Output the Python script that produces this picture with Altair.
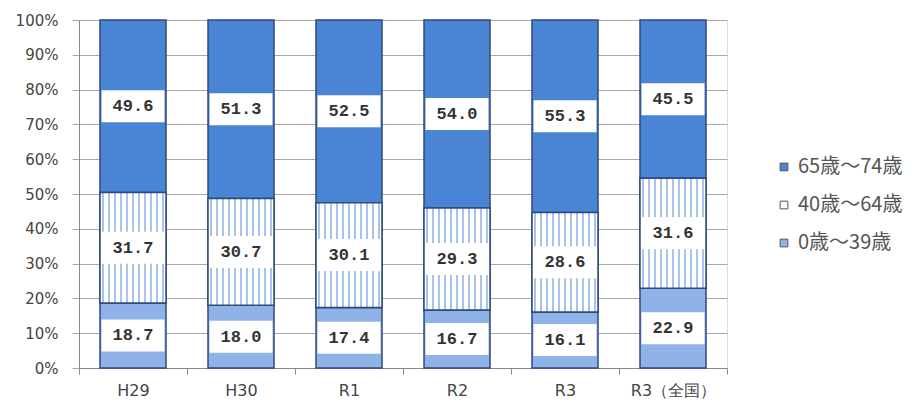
import altair as alt
import pandas as pd

categories = ["H29", "H30", "R1", "R2", "R3", "R3（全国）"]
series_names = ["65歳～74歳", "40歳～64歳", "0歳～39歳"]
age_0_39 = [18.7, 18.0, 17.4, 16.7, 16.1, 22.9]
age_40_64 = [31.7, 30.7, 30.1, 29.3, 28.6, 31.6]
age_65_74 = [49.6, 51.3, 52.5, 54.0, 55.3, 45.5]
y_ticks = [0, 10, 20, 30, 40, 50, 60, 70, 80, 90, 100]

rows = []
for i, c in enumerate(categories):
    rows.append({"cat": c, "series": series_names[2], "idx": 0, "value": age_0_39[i]})
    rows.append({"cat": c, "series": series_names[1], "idx": 1, "value": age_40_64[i]})
    rows.append({"cat": c, "series": series_names[0], "idx": 2, "value": age_65_74[i]})
df = pd.DataFrame(rows)

TOP = "#4a85d5"
BOT = "#8fb2e8"
STROKE = "#2e4a78"
GRID = "#a8a8a8"
BAR_W = 66

X_SCALE = alt.Scale(paddingInner=0, paddingOuter=0)
X_AXIS = alt.Axis(labelAngle=0, labelFont="DejaVu Sans", labelFontSize=16,
                  labelColor="#444", labelPadding=8, tickBand="extent",
                  tickSize=6, tickColor="#888", domainColor="#888", grid=False)
Y_SCALE = alt.Scale(domain=[0, 100], nice=False)
Y_AXIS = alt.Axis(values=y_ticks, labelExpr="datum.value + '%'", labelOverlap=False,
                  labelFont="DejaVu Sans", labelFontSize=15, labelColor="#444",
                  labelPadding=14, tickSize=7, tickColor=GRID, domainColor="#888",
                  gridColor=GRID, gridWidth=1)


def xe():
    return alt.X("cat:N", sort=categories, title=None, scale=X_SCALE, axis=X_AXIS)


def ye(field, **kw):
    return alt.Y(field, title=None, scale=Y_SCALE, axis=Y_AXIS, **kw)


base = alt.Chart(df)

bars = base.mark_bar(stroke=STROKE, strokeWidth=1.5, width=BAR_W).encode(
    x=xe(),
    y=ye("value:Q", stack="zero"),
    color=alt.Color("series:N", sort=series_names,
                    scale=alt.Scale(domain=series_names, range=[TOP, "#ffffff", BOT]),
                    legend=alt.Legend(title=None, orient="none", legendX=695, legendY=137,
                                      symbolType="square", symbolSize=60,
                                      symbolStrokeColor="#555", symbolStrokeWidth=1,
                                      labelFont="Noto Sans CJK JP", labelFontSize=20,
                                      labelColor="#555", rowPadding=18, labelOffset=4)),
    order=alt.Order("idx:Q"),
)

# vertical stripe overlay for the middle series
n = 11
stops = []
for k in range(n):
    a = k / n
    stops += [alt.GradientStop(offset=a, color="#ffffff"),
              alt.GradientStop(offset=a + 0.3 / n, color="#ffffff"),
              alt.GradientStop(offset=a + 0.3 / n, color="#a9c4ec"),
              alt.GradientStop(offset=a + 0.6 / n, color="#a9c4ec"),
              alt.GradientStop(offset=a + 0.6 / n, color="#ffffff")]
stops.append(alt.GradientStop(offset=1, color="#ffffff"))
grad = alt.Gradient(gradient="linear", stops=stops, x1=0, x2=1, y1=0, y2=0)

stacked = base.transform_stack(
    stack="value", groupby=["cat"], as_=["y0", "y1"], sort=[alt.SortField("idx")]
).transform_calculate(mid="(datum.y0 + datum.y1) / 2")

stripes = stacked.transform_filter(alt.datum.idx == 1).mark_bar(
    fill=grad, stroke=STROKE, strokeWidth=1.5, width=BAR_W
).encode(x=xe(), y=ye("y0:Q"), y2="y1:Q")

boxes = stacked.mark_tick(color="white", thickness=32, size=BAR_W - 3, opacity=1).encode(
    x=xe(), y=ye("mid:Q")
)

labels = stacked.mark_text(font="Liberation Mono", fontSize=17, fontWeight="bold",
                           color="#333", baseline="middle").encode(
    x=xe(), y=ye("mid:Q"),
    text=alt.Text("value:Q", format=".1f")
)

chart = alt.layer(bars, stripes, boxes, labels).properties(
    width=648, height=348,
    autosize=alt.AutoSizeParams(type="none"),
    padding={"left": 79, "top": 20, "right": 191, "bottom": 40},
).configure_view(stroke=None).configure(background="white")

chart.save("out.html", embed_options={"renderer": "svg", "actions": False})
